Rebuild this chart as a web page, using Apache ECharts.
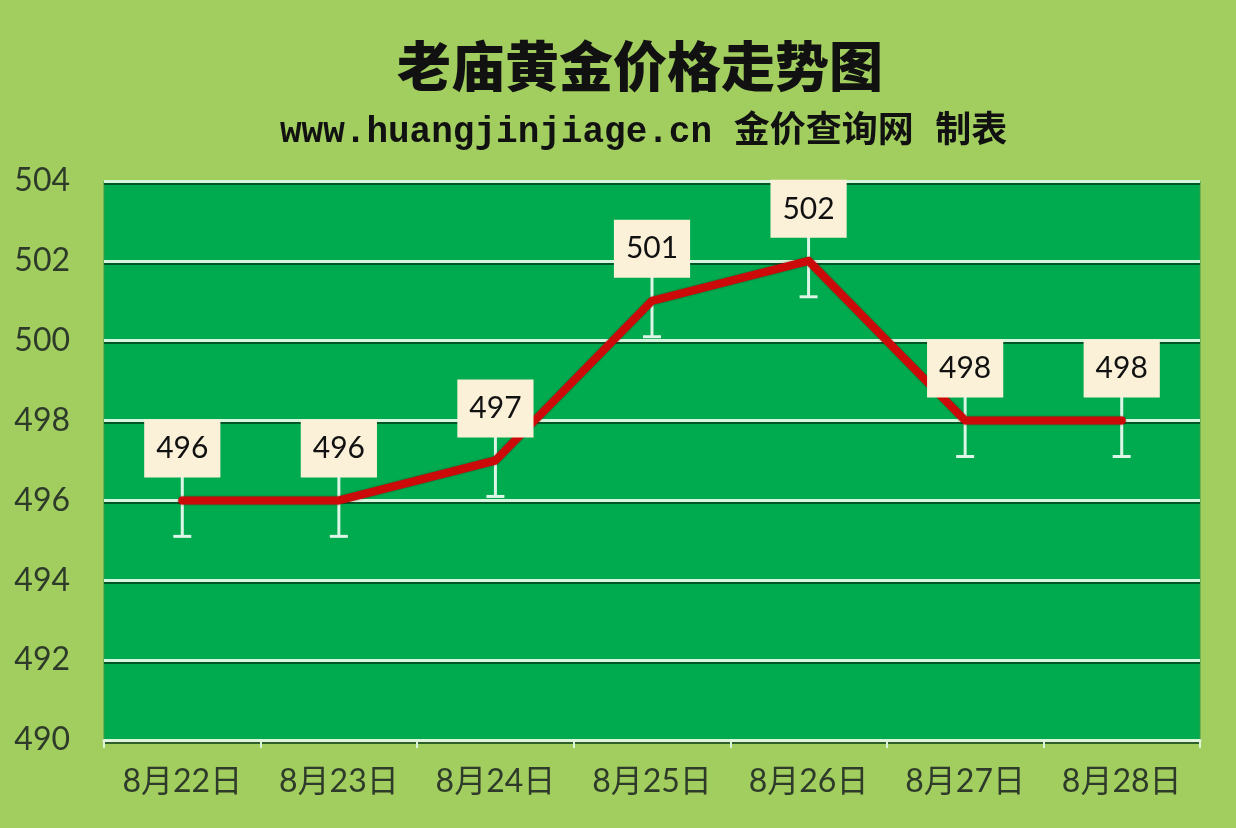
<!DOCTYPE html>
<html><head><meta charset="utf-8">
<script src="https://cdn.jsdelivr.net/npm/echarts@6/dist/echarts.min.js"></script>
<style>html,body{margin:0;padding:0;background:#A2CD5F;}#c{width:1236px;height:828px;}</style>
</head><body><div id="c"></div>
<script>
const titleText = '老庙黄金价格走势图';
const subtitleText = 'www.huangjinjiage.cn 金价查询网 制表';
const categories = ['8月22日','8月23日','8月24日','8月25日','8月26日','8月27日','8月28日'];
const prices = [496, 496, 497, 501, 502, 498, 498];
const errorMargin = 0.9;
const yMin = 490, yMax = 504, yInterval = 2;

const chart = echarts.init(document.getElementById('c'));
const errData = prices.map((v, i) => [i, v - errorMargin, v + errorMargin]);
chart.setOption({
  backgroundColor: '#A2CD5F',
  title: [
    { text: titleText, left: 392, top: 34,
      textStyle: { fontFamily: '"Noto Sans CJK SC"', fontWeight: 900, fontSize: 54, color: '#111' } },
    { text: subtitleText, left: 275, top: 110,
      textStyle: { fontFamily: '"Liberation Mono", "Noto Sans CJK SC"', fontWeight: 'bold', fontSize: 36, color: '#111' } }
  ],
  grid: { left: 104, right: 36, top: 181, bottom: 88, show: true, backgroundColor: '#00AA4E', borderColor: '#3C9A48', borderWidth: 1 },
  xAxis: {
    type: 'category', data: categories, boundaryGap: true,
    axisLine: { show: true, lineStyle: { color: '#DDF3DA', width: 3 } },
    axisTick: { show: true, length: 8, interval: 0, lineStyle: { color: '#DDF3DA', width: 2 } },
    axisLabel: { margin: 26, fontSize: 32, color: '#2E3B2A', fontFamily: 'Lato, "Noto Sans CJK SC"', interval: 0 },
    splitLine: { show: false }
  },
  yAxis: {
    type: 'value', min: yMin, max: yMax, interval: yInterval,
    axisLine: { show: false }, axisTick: { show: false },
    axisLabel: { margin: 34, fontSize: 32, color: '#2E3B2A', fontFamily: 'Lato, "Noto Sans CJK SC"' },
    splitLine: { show: true, lineStyle: { color: '#D6F5DE', width: 3, shadowColor: 'rgba(0,50,20,0.7)', shadowOffsetY: 2, shadowBlur: 0 } }
  },
  series: [
    {
      type: 'custom', z: 1, silent: true,
      data: errData,
      renderItem: function (params, api) {
        const x = api.coord([api.value(0), api.value(1)])[0];
        const yLo = api.coord([api.value(0), api.value(1)])[1];
        const yHi = api.coord([api.value(0), api.value(2)])[1];
        const st = { stroke: '#DDF5E6', lineWidth: 3 };
        return { type: 'group', children: [
          { type: 'line', shape: { x1: x, y1: yHi, x2: x, y2: yLo }, style: st },
          { type: 'line', shape: { x1: x - 9, y1: yLo, x2: x + 9, y2: yLo }, style: st },
          { type: 'line', shape: { x1: x - 9, y1: yHi, x2: x + 9, y2: yHi }, style: st }
        ]};
      },
      encode: { x: 0, y: [1, 2] }
    },
    {
      type: 'line', z: 3, data: prices, symbol: 'circle', symbolSize: 2, showSymbol: true, smooth: false,
      itemStyle: { color: '#CC0A0A' },
      lineStyle: { color: '#CC0A0A', width: 8, cap: 'round', join: 'round', shadowColor: 'rgba(90,0,0,0.6)', shadowBlur: 2 },
      label: {
        show: true, position: 'top', distance: 22,
        fontSize: 30, lineHeight: 30, color: '#111', fontFamily: 'Lato',
        backgroundColor: '#FBF1D8', padding: [14, 12, 14, 12]
      }
    }
  ]
});
</script></body></html>
